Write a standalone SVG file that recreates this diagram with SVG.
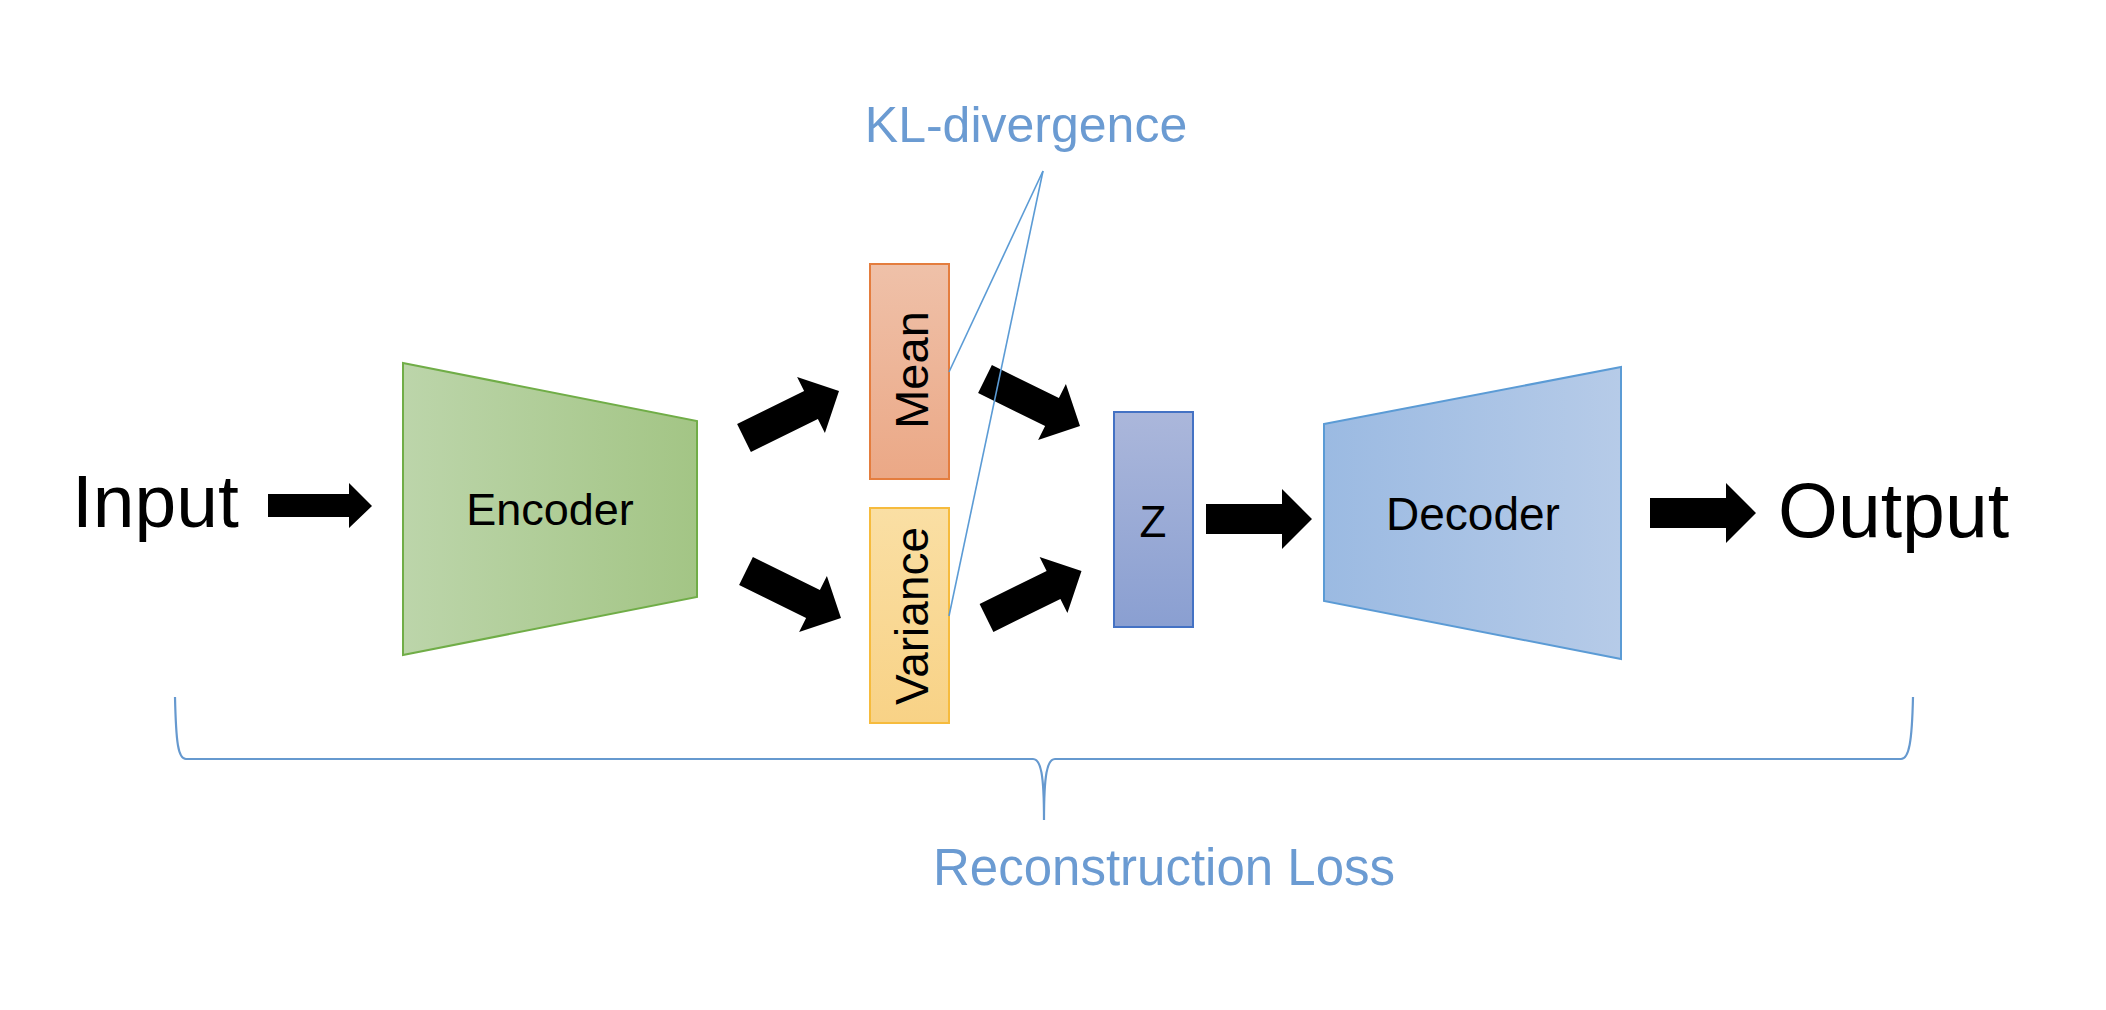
<svg xmlns="http://www.w3.org/2000/svg" width="2106" height="1010" viewBox="0 0 2106 1010">
  <style>
    .t { font-family: "Liberation Sans", Arial, sans-serif; fill: #000; }
    .blue { font-family: "Liberation Sans", Arial, sans-serif; fill: #6b9bd2; }
    .arrow { fill: #000; stroke: none; }
    .lead { fill: none; stroke: #5b9bd5; stroke-width: 1.6; }
    .brace { fill: none; stroke: #6699cf; stroke-width: 2.2; }
  </style>
  <defs>
    <linearGradient id="gEnc" x1="0" y1="0" x2="1" y2="0">
      <stop offset="0" stop-color="#bcd5aa"/>
      <stop offset="1" stop-color="#a3c585"/>
    </linearGradient>
    <linearGradient id="gDec" x1="0" y1="0" x2="1" y2="0">
      <stop offset="0" stop-color="#9bbae2"/>
      <stop offset="1" stop-color="#b6cbe8"/>
    </linearGradient>
    <linearGradient id="gMean" x1="0" y1="0" x2="0" y2="1">
      <stop offset="0" stop-color="#efc1a9"/>
      <stop offset="1" stop-color="#eba886"/>
    </linearGradient>
    <linearGradient id="gVar" x1="0" y1="0" x2="0" y2="1">
      <stop offset="0" stop-color="#fadfa4"/>
      <stop offset="1" stop-color="#f8d286"/>
    </linearGradient>
    <linearGradient id="gZ" x1="0" y1="0" x2="0" y2="1">
      <stop offset="0" stop-color="#abb7db"/>
      <stop offset="1" stop-color="#8a9fd1"/>
    </linearGradient>
  </defs>
  <rect width="2106" height="1010" fill="#fff"/>

  <g id="input">
    <text class="t" x="72" y="527" font-size="75">Input</text>
  </g>

  <g id="encoder">
    <polygon points="403,363 697,421 697,597 403,655" fill="url(#gEnc)" stroke="#70ad47" stroke-width="2"/>
    <text class="t" x="550" y="525" font-size="45" text-anchor="middle">Encoder</text>
  </g>

  <g id="mean">
    <rect x="870" y="264" width="79" height="215" fill="url(#gMean)" stroke="#e47d3e" stroke-width="2"/>
    <text class="t" transform="translate(928,370) rotate(-90)" font-size="47" text-anchor="middle">Mean</text>
  </g>

  <g id="variance">
    <rect x="870" y="508" width="79" height="215" fill="url(#gVar)" stroke="#f6bb3d" stroke-width="2"/>
    <text class="t" transform="translate(928,616) rotate(-90)" font-size="46" text-anchor="middle">Variance</text>
  </g>

  <g id="z">
    <rect x="1114" y="412" width="79" height="215" fill="url(#gZ)" stroke="#4472c4" stroke-width="2"/>
    <text class="t" x="1153" y="537" font-size="44" text-anchor="middle">Z</text>
  </g>

  <g id="decoder">
    <polygon points="1324,424 1621,367 1621,659 1324,601" fill="url(#gDec)" stroke="#5b9bd5" stroke-width="2"/>
    <text class="t" x="1473" y="530" font-size="46" text-anchor="middle">Decoder</text>
  </g>

  <g id="output">
    <text class="t" x="1778" y="537" font-size="77">Output</text>
  </g>

  <g id="kl-divergence">
    <text class="blue" x="1026" y="142" font-size="50" text-anchor="middle">KL-divergence</text>
  </g>

  <g id="reconstruction-loss">
    <path class="brace" d="M175,697 C176,742 178,759 186,759 L1033,759 C1041,759 1044,775 1044,820 C1044,775 1047,759 1055,759 L1901,759 C1909,759 1912,742 1913,697"/>
    <text class="blue" x="1164" y="885" font-size="51" text-anchor="middle">Reconstruction Loss</text>
  </g>

  <g id="connectors">
    <polygon class="arrow" points="268,494 349,494 349,483 372,506 349,528 349,517 268,517"/>
    <polygon class="arrow" points="737.1,424 804.1,390.9 797.1,376.9 839,391 824.9,432.9 817.9,418.9 750.9,452"/>
    <polygon class="arrow" points="739.1,585 806.1,618.1 799.1,632.1 841,618 826.9,576.1 819.9,590.1 752.9,557"/>
    <polygon class="arrow" points="978.1,393 1045.1,426.1 1038.1,440.1 1080,426 1065.9,384.1 1058.9,398.1 991.9,365"/>
    <polygon class="arrow" points="979.6,604 1046.6,570.9 1039.6,556.9 1081.5,571 1067.4,612.9 1060.4,598.9 993.4,632"/>
    <polygon class="arrow" points="1206,504 1282,504 1282,489 1312,519 1282,549 1282,534 1206,534"/>
    <polygon class="arrow" points="1650,498 1726,498 1726,483 1756,513 1726,543 1726,528 1650,528"/>
    <line class="lead" x1="1043" y1="171" x2="949" y2="372"/>
    <line class="lead" x1="1043" y1="171" x2="949" y2="616"/>
  </g>
</svg>
